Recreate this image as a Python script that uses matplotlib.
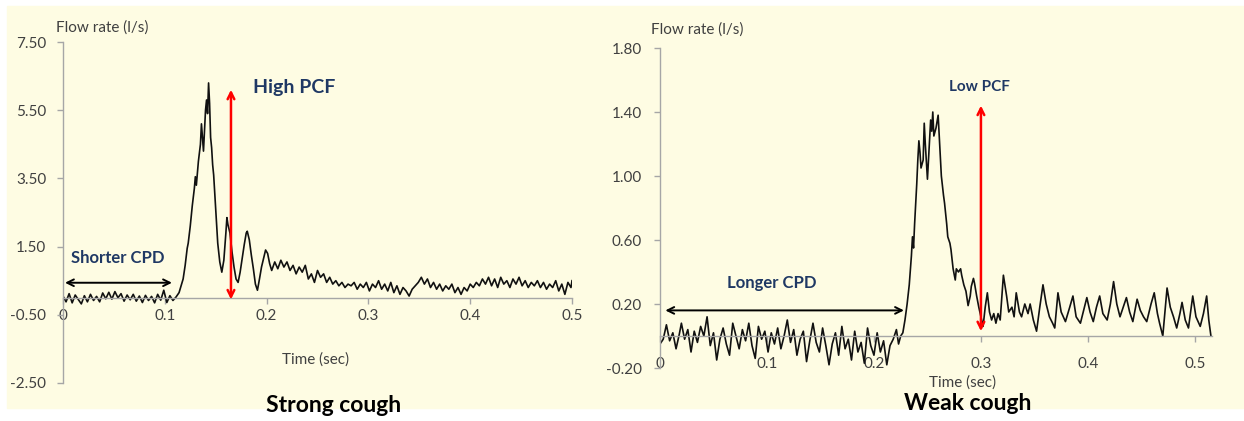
import matplotlib
matplotlib.use('Agg')
import matplotlib.pyplot as plt
from matplotlib.patches import Rectangle

# Strong cough: time (s) and flow rate (l/s)
strong_time = [
    0.000, 0.003, 0.006, 0.009, 0.012, 0.015, 0.018, 0.021, 0.024, 0.027,
    0.030, 0.033, 0.036, 0.039, 0.042, 0.045, 0.048, 0.051, 0.054, 0.057,
    0.060, 0.063, 0.066, 0.069, 0.072, 0.075, 0.078, 0.081, 0.084, 0.087,
    0.090, 0.093, 0.096, 0.099, 0.102, 0.105, 0.108, 0.111,
    0.114, 0.116, 0.118, 0.120, 0.122, 0.123, 0.125, 0.127, 0.129, 0.130,
    0.131, 0.133, 0.135, 0.136, 0.137, 0.138, 0.139, 0.140, 0.141, 0.142,
    0.143, 0.144, 0.145, 0.146, 0.147, 0.148, 0.150, 0.152, 0.154, 0.156,
    0.158, 0.160, 0.161, 0.162, 0.164, 0.166, 0.168, 0.170, 0.172, 0.174,
    0.176, 0.178, 0.180, 0.181, 0.183, 0.185, 0.187, 0.189, 0.191, 0.193,
    0.195, 0.197, 0.199, 0.201, 0.203, 0.205,
    0.208, 0.211, 0.214, 0.217, 0.220, 0.223, 0.226, 0.229, 0.232, 0.235,
    0.238, 0.241, 0.244, 0.247, 0.250, 0.253, 0.256, 0.259, 0.262, 0.265,
    0.268, 0.271, 0.274, 0.277, 0.280, 0.283, 0.286, 0.289, 0.292, 0.295,
    0.298, 0.301, 0.304, 0.307, 0.310, 0.313, 0.316, 0.319, 0.322, 0.325,
    0.328, 0.331, 0.334, 0.337, 0.340, 0.343, 0.346, 0.349, 0.352, 0.355,
    0.358, 0.361, 0.364, 0.367, 0.370, 0.373, 0.376, 0.379, 0.382, 0.385,
    0.388, 0.391, 0.394, 0.397, 0.400, 0.403, 0.406, 0.409, 0.412, 0.415,
    0.418, 0.421, 0.424, 0.427, 0.430, 0.433, 0.436, 0.439, 0.442, 0.445,
    0.448, 0.451, 0.454, 0.457, 0.460, 0.463, 0.466, 0.469, 0.472, 0.475,
    0.478, 0.481, 0.484, 0.487, 0.490, 0.493, 0.496, 0.499, 0.500,
]
strong_flow = [
    0.05, -0.12, 0.12, -0.15, 0.08, -0.05, -0.18, 0.06, -0.12, 0.10,
    -0.08, 0.04, -0.12, 0.14, -0.03, 0.16, -0.04, 0.18, 0.00, 0.12,
    -0.10, 0.08, -0.06, 0.10, -0.10, 0.05, -0.14, 0.07, -0.08, 0.04,
    -0.15, 0.10, -0.07, 0.22, -0.14, 0.06, -0.08, 0.02,
    0.15, 0.35, 0.55, 0.95, 1.45, 1.60, 2.10, 2.70, 3.20, 3.55,
    3.30, 4.00, 4.50, 5.10, 4.70, 4.30, 4.90, 5.50, 5.80, 5.40,
    6.30, 5.70, 4.70, 4.40, 3.90, 3.60, 2.60, 1.60, 1.05, 0.75,
    1.10, 1.90, 2.35, 2.15, 1.90, 1.35, 0.90, 0.55, 0.45, 0.75,
    1.15, 1.55, 1.90, 1.95, 1.70, 1.25, 0.85, 0.40, 0.22, 0.55,
    0.90, 1.15, 1.40, 1.30, 1.00, 0.80,
    1.05, 0.85, 1.10, 0.90, 1.05, 0.80, 0.95, 0.70, 0.90, 0.75,
    0.95, 0.55, 0.70, 0.45, 0.80, 0.60, 0.70, 0.45, 0.60, 0.40,
    0.50, 0.35, 0.45, 0.30, 0.40, 0.35, 0.45, 0.25, 0.40, 0.30,
    0.45, 0.20, 0.40, 0.30, 0.50, 0.25, 0.40, 0.20, 0.45, 0.15,
    0.35, 0.10, 0.30, 0.20, 0.05, 0.25, 0.35, 0.45, 0.60, 0.40,
    0.55, 0.30, 0.45, 0.25, 0.40, 0.20, 0.35, 0.25, 0.40, 0.15,
    0.30, 0.10, 0.30, 0.20, 0.40, 0.30, 0.45, 0.35, 0.55, 0.40,
    0.60, 0.35, 0.55, 0.30, 0.60, 0.40, 0.50, 0.30, 0.55, 0.40,
    0.60, 0.35, 0.50, 0.30, 0.45, 0.35, 0.50, 0.30, 0.45, 0.25,
    0.40, 0.30, 0.50, 0.20, 0.40, 0.10, 0.45, 0.30, 0.50,
]

# Weak cough
weak_time = [
    0.000, 0.003, 0.006, 0.009, 0.012, 0.015, 0.018, 0.020, 0.023, 0.026,
    0.029, 0.032, 0.035, 0.038, 0.041, 0.044, 0.047, 0.050, 0.053, 0.056,
    0.059, 0.062, 0.065, 0.068, 0.071, 0.074, 0.077, 0.080, 0.083, 0.086,
    0.089, 0.092, 0.095, 0.098, 0.101, 0.104, 0.107, 0.110, 0.113, 0.116,
    0.119, 0.122, 0.125, 0.128, 0.131, 0.134, 0.137, 0.140, 0.143, 0.146,
    0.149, 0.152, 0.155, 0.158, 0.161, 0.164, 0.167, 0.170, 0.173, 0.176,
    0.179, 0.182, 0.185, 0.188, 0.191, 0.194, 0.197, 0.200, 0.203, 0.206,
    0.209, 0.212, 0.215, 0.218, 0.221, 0.223, 0.225, 0.227,
    0.229, 0.231, 0.233, 0.235, 0.236, 0.237, 0.238, 0.240, 0.241, 0.242,
    0.243, 0.244, 0.246, 0.247, 0.248, 0.250, 0.251, 0.253, 0.254, 0.255,
    0.256, 0.258, 0.260, 0.261, 0.262, 0.263, 0.265, 0.266, 0.268, 0.269,
    0.271, 0.272, 0.274, 0.276, 0.277, 0.279, 0.281, 0.282, 0.284, 0.286,
    0.288, 0.290, 0.291, 0.293, 0.294, 0.296, 0.298, 0.300, 0.302, 0.304,
    0.306, 0.308, 0.310, 0.312, 0.314, 0.316, 0.318, 0.321, 0.324, 0.326,
    0.329, 0.331, 0.333, 0.336, 0.338, 0.341, 0.344, 0.346, 0.349, 0.352,
    0.355, 0.358, 0.361, 0.364, 0.367, 0.369, 0.372, 0.375, 0.379, 0.383,
    0.386, 0.389, 0.393, 0.396, 0.399, 0.402, 0.405, 0.408, 0.411, 0.414,
    0.418, 0.421, 0.424, 0.427, 0.430, 0.433, 0.436, 0.439, 0.442, 0.446,
    0.449, 0.452, 0.455, 0.459, 0.462, 0.465, 0.467, 0.470, 0.474, 0.477,
    0.480, 0.483, 0.486, 0.488, 0.491, 0.494, 0.496, 0.498, 0.501, 0.505,
    0.508, 0.511, 0.513, 0.515,
]
weak_flow = [
    -0.05, -0.02, 0.07, -0.03, 0.02, -0.08, 0.01, 0.08, -0.02, 0.04,
    -0.10, 0.03, -0.04, 0.06, 0.00, 0.12, -0.06, 0.02, -0.15, -0.02,
    0.05, -0.05, -0.12, 0.08, 0.00, -0.08, 0.04, -0.03, 0.08, -0.06,
    -0.14, 0.06, -0.02, 0.03, -0.10, 0.02, -0.05, 0.05, -0.08, 0.00,
    0.10, -0.04, 0.04, -0.12, -0.02, 0.03, -0.16, -0.03, 0.08, -0.04,
    -0.10, 0.05, -0.06, -0.18, -0.05, 0.02, -0.12, 0.06, -0.08, -0.02,
    -0.15, 0.03, -0.10, -0.04, -0.17, 0.05, -0.06, -0.12, 0.02, -0.10,
    -0.03, -0.18, -0.06, -0.02, 0.04, -0.05, 0.00, 0.02,
    0.10, 0.20, 0.32, 0.50, 0.62, 0.55, 0.70, 0.95, 1.10, 1.22,
    1.15, 1.05, 1.10, 1.33, 1.20, 0.98, 1.10, 1.35, 1.28, 1.40,
    1.25, 1.30, 1.38, 1.25, 1.12, 1.00, 0.88, 0.83, 0.70, 0.62,
    0.58, 0.54, 0.42, 0.35, 0.42, 0.40, 0.42, 0.38, 0.32, 0.28,
    0.19, 0.25, 0.31, 0.36, 0.33, 0.25, 0.18, 0.12, 0.06, 0.18,
    0.27, 0.15, 0.10, 0.14, 0.08, 0.14, 0.10, 0.38, 0.25, 0.15,
    0.18, 0.12, 0.27, 0.15, 0.12, 0.20, 0.14, 0.20, 0.10, 0.03,
    0.18, 0.32, 0.20, 0.12, 0.08, 0.05, 0.27, 0.15, 0.09, 0.18,
    0.25, 0.12, 0.08, 0.16, 0.24, 0.15, 0.09, 0.18, 0.25, 0.14,
    0.10, 0.20, 0.34, 0.20, 0.12, 0.18, 0.24, 0.15, 0.09, 0.23,
    0.16, 0.12, 0.09, 0.20, 0.27, 0.14, 0.08, 0.00, 0.30, 0.18,
    0.12, 0.05, 0.14, 0.21, 0.10, 0.05, 0.15, 0.25, 0.12, 0.06,
    0.14, 0.25, 0.10, 0.00,
]

strong_yticks = [-2.5, -0.5, 1.5, 3.5, 5.5, 7.5]
weak_yticks = [-0.2, 0.2, 0.6, 1.0, 1.4, 1.8]
time_ticks = [0, 0.1, 0.2, 0.3, 0.4, 0.5]
time_labels = ['0', '0.1', '0.2', '0.3', '0.4', '0.5']

W, H = 1244, 421
NAVY = '#1f3864'
GREY = '#404040'
plt.rcParams['font.family'] = ['Lato', 'DejaVu Sans']

fig = plt.figure(figsize=(W / 100, H / 100), dpi=100)
fig.patch.set_facecolor('white')
# cream panel behind both charts
fig.patches.append(Rectangle((7 / W, 1 - 408 / H), 1 - 7 / W, 402 / H,
                             transform=fig.transFigure, color='#fefce3',
                             zorder=-10))


def px_box(x0, x1, ytop, ybot):
    return [x0 / W, 1 - ybot / H, (x1 - x0) / W, (ybot - ytop) / H]


def style_axis(ax, xpad, ypad):
    ax.set_facecolor('none')
    for s in ['top', 'right']:
        ax.spines[s].set_visible(False)
    ax.spines['bottom'].set_position(('data', 0))
    for s in ['left', 'bottom']:
        ax.spines[s].set_color('#a6a6a6')
        ax.spines[s].set_linewidth(1.0)
    ax.tick_params(axis='both', colors='#a6a6a6', labelcolor=GREY,
                   labelsize=11, length=4, width=1.0)
    ax.tick_params(axis='x', pad=xpad)
    ax.tick_params(axis='y', pad=ypad)
    ax.set_xticks(time_ticks)
    ax.set_xticklabels(time_labels)


# Strong cough
ax1 = fig.add_axes(px_box(63, 572, 42, 383))
ax1.plot(strong_time, strong_flow, color='#111111', lw=1.2)
ax1.set_xlim(0, 0.5)
ax1.set_ylim(-2.5, 7.5)
ax1.set_yticks(strong_yticks)
ax1.set_yticklabels(['%.2f' % v for v in strong_yticks])
style_axis(ax1, 4, 8)

ax1.annotate('', xy=(0.002, 0.44), xytext=(0.107, 0.44),
             arrowprops=dict(arrowstyle='<->', color='black', lw=1.4,
                             shrinkA=0, shrinkB=0, mutation_scale=12))
ax1.annotate('', xy=(0.165, -0.05), xytext=(0.165, 6.1),
             arrowprops=dict(arrowstyle='<->', color='#ff0000', lw=1.8,
                             shrinkA=0, shrinkB=0, mutation_scale=12))
ax1.text(0.187, 6.16, 'High PCF', color=NAVY, fontsize=14,
         fontweight='bold', ha='left', va='center')
ax1.text(0.008, 1.16, 'Shorter CPD', color=NAVY, fontsize=12,
         fontweight='bold', ha='left', va='center')

# Weak cough
ax2 = fig.add_axes(px_box(660, 1212, 48, 368))
ax2.plot(weak_time, weak_flow, color='#111111', lw=1.2)
ax2.set_xlim(0, 0.516)
ax2.set_ylim(-0.2, 1.8)
ax2.set_yticks(weak_yticks)
ax2.set_yticklabels(['%.2f' % v for v in weak_yticks])
style_axis(ax2, 11, 9)

ax2.annotate('', xy=(0.005, 0.16), xytext=(0.228, 0.16),
             arrowprops=dict(arrowstyle='<->', color='black', lw=1.4,
                             shrinkA=0, shrinkB=0, mutation_scale=12))
ax2.annotate('', xy=(0.300, 0.03), xytext=(0.300, 1.44),
             arrowprops=dict(arrowstyle='<->', color='#ff0000', lw=1.8,
                             shrinkA=0, shrinkB=0, mutation_scale=12))
ax2.text(0.270, 1.556, 'Low PCF', color=NAVY, fontsize=11,
         fontweight='bold', ha='left', va='center')
ax2.text(0.063, 0.33, 'Longer CPD', color=NAVY, fontsize=12,
         fontweight='bold', ha='left', va='center')

# axis captions and panel titles
fig.text(56 / W, 1 - 28 / H, 'Flow rate (l/s)', color=GREY, fontsize=11,
         ha='left', va='center')
fig.text(651 / W, 1 - 30 / H, 'Flow rate (l/s)', color=GREY, fontsize=11,
         ha='left', va='center')
fig.text(316 / W, 1 - 360 / H, 'Time (sec)', color=GREY, fontsize=11,
         ha='center', va='center')
fig.text(963 / W, 1 - 383 / H, 'Time (sec)', color=GREY, fontsize=11,
         ha='center', va='center')
fig.text(334 / W, 1 - 406 / H, 'Strong cough', color='black', fontsize=16.5,
         fontweight='bold', ha='center', va='center')
fig.text(968 / W, 1 - 404 / H, 'Weak cough', color='black', fontsize=16.5,
         fontweight='bold', ha='center', va='center')

fig.savefig('out.png', dpi=100)
